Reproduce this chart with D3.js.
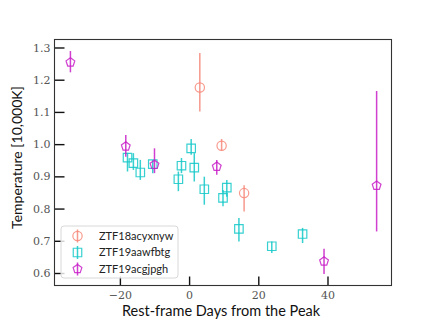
<!DOCTYPE html>
<html><head><meta charset="utf-8">
<script src="https://cdn.jsdelivr.net/npm/d3@7"></script>
<style>body{margin:0;background:#fff}svg{display:block}</style>
</head><body><svg id="c" width="436" height="327"></svg>
<script>
// ZTF18acyxnyw (salmon circles)
const s1Days = [3.1, 9.4, 15.9];
const s1Temp = [1.176, 0.995, 0.848];
const s1Lo   = [1.101, 0.980, 0.791];
const s1Hi   = [1.283, 1.016, 0.872];
// ZTF19aawfbtg (cyan squares)
const s2Days = [-17.8, -16.1, -14.1, -10.5, -3.1, -2.2, 0.6, 1.5, 4.4, 10.9, 9.8, 14.4, 23.9, 32.8];
const s2Temp = [0.958, 0.941, 0.912, 0.938, 0.891, 0.933, 0.987, 0.927, 0.860, 0.865, 0.833, 0.737, 0.683, 0.721];
const s2Lo   = [0.915, 0.920, 0.889, 0.910, 0.854, 0.910, 0.967, 0.884, 0.812, 0.837, 0.807, 0.698, 0.662, 0.693];
const s2Hi   = [0.973, 0.972, 0.951, 0.951, 0.915, 0.957, 1.016, 0.972, 0.899, 0.889, 0.858, 0.771, 0.698, 0.740];
// ZTF19acgjpgh (magenta pentagons)
const s3Days = [-34.3, -18.3, -10.0, 8.0, 39.0, 54.2];
const s3Temp = [1.254, 0.993, 0.936, 0.930, 0.636, 0.871];
const s3Lo   = [1.223, 0.961, 0.910, 0.905, 0.597, 0.729];
const s3Hi   = [1.289, 1.028, 0.987, 0.951, 0.675, 1.165];

const seriesNames = ["ZTF18acyxnyw", "ZTF19aawfbtg", "ZTF19acgjpgh"];
const xTicks = [-20, 0, 20, 40];
const yTicks = [0.6, 0.7, 0.8, 0.9, 1.0, 1.1, 1.2, 1.3];

const colors = ["#f7887a", "#14c8c8", "#c81ec8"];
const shapes = ["circle", "square", "pentagon"];

const svg = d3.select("#c");
const L = 54.5, R = 391.5, T = 39.5, B = 285.5;
const x = d3.scaleLinear().domain([-38.9, 58.5]).range([L, R]);
const y = d3.scaleLinear().domain([0.5612, 1.3248]).range([B, T]);

const sans = "Lato, 'DejaVu Sans', sans-serif";
const serif = "'DejaVu Serif', 'Liberation Serif', serif";

// axes
const xAxis = d3.axisBottom(x).tickValues(xTicks).tickSizeInner(-9).tickSizeOuter(0).tickPadding(14)
  .tickFormat(d => d < 0 ? "\u2212" + Math.abs(d) : String(d));
const gx = svg.append("g").attr("transform", `translate(0,${B})`).call(xAxis);
const yAxis = d3.axisLeft(y).tickValues(yTicks).tickSizeInner(-10).tickSizeOuter(0).tickPadding(14)
  .tickFormat(d3.format(".1f"));
const gy = svg.append("g").attr("transform", `translate(${L},0)`).call(yAxis);
[gx, gy].forEach(g => {
  g.attr("font-family", serif).attr("font-size", 11);
  g.select(".domain").remove();
  g.selectAll(".tick line").attr("stroke", "#111").attr("stroke-width", 1.4);
  g.selectAll(".tick text").style("font-family", serif).style("font-size", "11px").attr("fill", "#555");
});
gx.selectAll(".tick text").attr("dy", "0.35em").attr("y", 10);
gy.selectAll(".tick text").attr("x", -4);

// frame
svg.append("rect").attr("x", L).attr("y", T).attr("width", R - L).attr("height", B - T)
  .attr("fill", "none").attr("stroke", "#333").attr("stroke-width", 1.1);

function markerPath(shape) {
  if (shape === "circle") return d3.symbol(d3.symbolCircle, 68)();
  if (shape === "square") return d3.symbol(d3.symbolSquare, 72)();
  const r = 4.6, pts = [];
  for (let i = 0; i < 5; i++) {
    const a = -Math.PI / 2 + i * 2 * Math.PI / 5;
    pts.push([r * Math.cos(a), r * Math.sin(a)]);
  }
  return "M" + pts.map(p => p.join(",")).join("L") + "Z";
}

const all = [
  [s1Days, s1Temp, s1Lo, s1Hi],
  [s2Days, s2Temp, s2Lo, s2Hi],
  [s3Days, s3Temp, s3Lo, s3Hi]
];
all.forEach((s, k) => {
  const g = svg.append("g");
  const data = s[0].map((d, i) => ({ d, t: s[1][i], lo: s[2][i], hi: s[3][i] }));
  g.selectAll("line").data(data).join("line")
    .attr("x1", p => x(p.d)).attr("x2", p => x(p.d))
    .attr("y1", p => y(p.lo)).attr("y2", p => y(p.hi))
    .attr("stroke", colors[k]).attr("stroke-width", 1.5).attr("opacity", 0.85);
  g.selectAll("path").data(data).join("path")
    .attr("d", () => markerPath(shapes[k]))
    .attr("transform", p => `translate(${x(p.d)},${y(p.t)})`)
    .attr("fill", "none").attr("stroke", colors[k]).attr("stroke-width", 1.2).attr("opacity", 0.85);
});

// legend
const lg = svg.append("g");
lg.append("rect").attr("x", 61).attr("y", 226).attr("width", 117).attr("height", 52).attr("rx", 3)
  .attr("fill", "#fff").attr("fill-opacity", 0.8).attr("stroke", "#d8d8d8").attr("stroke-width", 1);
seriesNames.forEach((n, k) => {
  const cy = 236 + k * 16.5, cx = 77.5;
  lg.append("line").attr("x1", cx).attr("x2", cx).attr("y1", cy - 6.5).attr("y2", cy + 6.5)
    .attr("stroke", colors[k]).attr("stroke-width", 1.5).attr("opacity", 0.85);
  lg.append("path").attr("d", markerPath(shapes[k])).attr("transform", `translate(${cx},${cy})`)
    .attr("fill", "none").attr("stroke", colors[k]).attr("stroke-width", 1.2).attr("opacity", 0.85);
  lg.append("text").attr("x", 99).attr("y", cy).attr("dy", "0.36em")
    .attr("font-family", sans).attr("font-size", 11).attr("fill", "#222").text(n);
});

// axis labels
svg.append("text").attr("x", (L + R) / 2 - 2).attr("y", 316).attr("text-anchor", "middle")
  .attr("font-family", sans).attr("font-size", 14.5).attr("fill", "#111").text("Rest-frame Days from the Peak");
svg.append("text").attr("transform", `translate(22,${(T + B) / 2 - 5}) rotate(-90)`).attr("text-anchor", "middle")
  .attr("font-family", sans).attr("font-size", 14).attr("fill", "#111").text("Temperature [10,000K]");
</script></body></html>
